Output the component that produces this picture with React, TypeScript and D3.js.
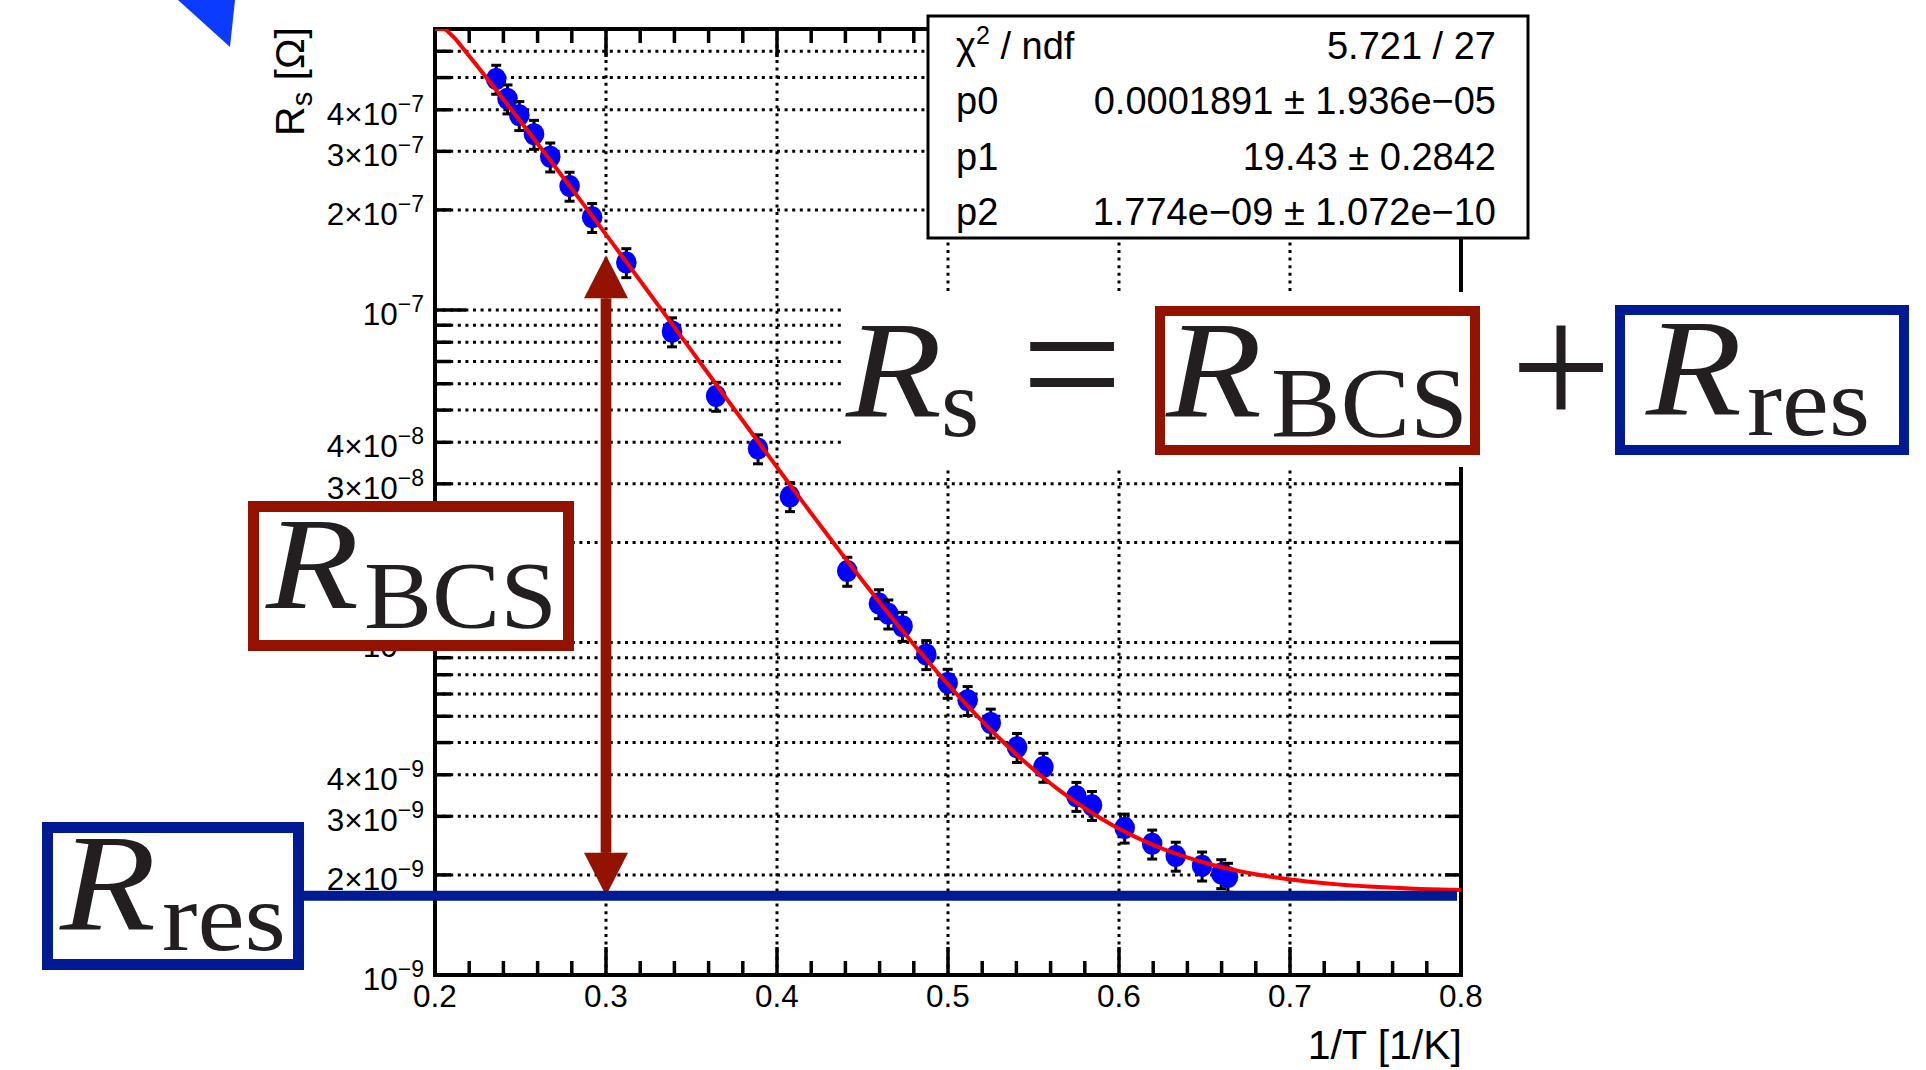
import React from 'react';
import * as d3 from 'd3';

// ---------- data ----------
const invT = [0.2358, 0.2424, 0.2493, 0.2579, 0.2674, 0.2787, 0.2919, 0.3119, 0.3386, 0.3644,
  0.3889, 0.4076, 0.4411, 0.4596, 0.4651, 0.4734, 0.4873, 0.4998, 0.5115, 0.5250,
  0.5404, 0.5558, 0.5751, 0.5842, 0.6033, 0.6194, 0.6332, 0.6486, 0.6598, 0.6637];
const rsValues = [4.95e-7, 4.32e-7, 3.85e-7, 3.38e-7, 2.89e-7, 2.36e-7, 1.90e-7, 1.39e-7, 8.61e-8, 5.51e-8,
  3.83e-8, 2.75e-8, 1.64e-8, 1.31e-8, 1.22e-8, 1.12e-8, 9.21e-9, 7.55e-9, 6.70e-9, 5.73e-9,
  4.84e-9, 4.22e-9, 3.45e-9, 3.24e-9, 2.77e-9, 2.48e-9, 2.28e-9, 2.13e-9, 2.02e-9, 1.97e-9];
const relError = 0.1;

// fit: p0 * x * exp(-p1 * x) + p2   (x = 1/T)
const fitParams = [1.891e-4, 19.43, 1.774e-9];
const fitNpx = 100;

const statLabels = ['χ2 / ndf', 'p0', 'p1', 'p2'];
const statValues = ['5.721 / 27', '0.0001891 ± 1.936e−05', '19.43 ± 0.2842', '1.774e−09 ± 1.072e−10'];

const xDomain = [0.2, 0.8];
const yDomain = [1e-9, 7e-7];
const xTickLabels = ['0.2', '0.3', '0.4', '0.5', '0.6', '0.7', '0.8'];
const yLabelMantissas = [1, 2, 3, 4];
const xTitle = '1/T [1/K]';

// annotation anchors (data units)
const rResLevel = 1.73e-9;
const arrowX = 0.3;
const arrowTop = 1.46e-7;

// ---------- layout ----------
const W = 1926, H = 1070;
const FL = 435, FR = 1461, FT = 29, FB = 975;
const DARKRED = '#931300';
const DARKBLUE = '#001A94';
const INK = '#231F20';
const SANS = '"Liberation Sans", Arial, Helvetica, sans-serif';
const SERIF = '"Liberation Serif", "Times New Roman", serif';

function fit(x: number) {
  const [p0, p1, p2] = fitParams;
  return p0 * x * Math.exp(-p1 * x) + p2;
}

export default function App() {
  const x = d3.scaleLinear().domain(xDomain).range([FL, FR]);
  const y = d3.scaleLog().domain(yDomain).range([FB, FT]);

  const xMinor = x.ticks(30);
  const xMajor = x.ticks(6);
  const yTicks = y.ticks().filter(t => t >= yDomain[0] * 0.999 && t <= yDomain[1] * 1.001);
  const isDecade = (t: number) => Math.abs(Math.log10(t) - Math.round(Math.log10(t))) < 1e-6;
  const mantissa = (t: number) => Math.round(t / Math.pow(10, Math.floor(Math.log10(t) + 1e-9)));
  const expo = (t: number) => Math.floor(Math.log10(t) + 1e-9);

  const curvePts: [number, number][] = d3.range(fitNpx + 1).map(i => {
    const xv = xDomain[0] + (xDomain[1] - xDomain[0]) * i / fitNpx;
    const v = Math.min(fit(xv), yDomain[1]);
    return [x(xv), y(v)];
  });
  const line = d3.line();

  const dot = '3 4.6';
  const ax = x(arrowX);
  const aTop = y(arrowTop);
  const aBot = y(rResLevel);
  const headW = 44, headH = 43, shaftW = 10.7;

  return (
    <svg width={W} height={H} style={{ position: 'absolute', left: 0, top: 0, display: 'block', background: '#fff' }}>
      <rect x={0} y={0} width={W} height={H} fill="#fff" />
      <defs>
        <clipPath id="frameClip"><rect x={FL} y={FT} width={FR - FL} height={FB - FT} /></clipPath>
      </defs>

      {/* grid */}
      <g stroke="#000" strokeWidth={3} strokeDasharray={dot} fill="none">
        {yTicks.filter(t => y(t) > FT + 2 && y(t) < FB - 2).map((t, i) => (
          <line key={'gy' + i} x1={FL} x2={FR} y1={y(t)} y2={y(t)} />
        ))}
        {xMajor.filter(t => x(t) > FL + 2 && x(t) < FR - 2).map((t, i) => (
          <line key={'gx' + i} x1={x(t)} x2={x(t)} y1={FB} y2={FT} />
        ))}
      </g>

      {/* ticks */}
      <g stroke="#000" strokeWidth={3.5}>
        {xMinor.map((t, i) => {
          const major = xMajor.some(m => Math.abs(m - t) < 1e-9);
          const len = major ? 28 : 14;
          return (
            <g key={'tx' + i}>
              <line x1={x(t)} x2={x(t)} y1={FB} y2={FB - len} />
              <line x1={x(t)} x2={x(t)} y1={FT} y2={FT + len} />
            </g>
          );
        })}
        {yTicks.map((t, i) => {
          const len = isDecade(t) ? 31 : 16;
          return (
            <g key={'ty' + i}>
              <line x1={FL} x2={FL + len} y1={y(t)} y2={y(t)} />
              <line x1={FR} x2={FR - len} y1={y(t)} y2={y(t)} />
            </g>
          );
        })}
      </g>

      {/* frame */}
      <rect x={FL} y={FT} width={FR - FL} height={FB - FT} fill="none" stroke="#000" strokeWidth={4} />

      {/* x tick labels */}
      <g fontFamily={SANS} fontSize={31.5} fill="#000" textAnchor="middle">
        {xMajor.map((t, i) => (
          <text key={'lx' + i} x={x(t)} y={1007}>{xTickLabels[i]}</text>
        ))}
      </g>
      {/* y tick labels */}
      <g fontFamily={SANS} fontSize={31.5} fill="#000" textAnchor="end">
        {yTicks.filter(t => yLabelMantissas.includes(mantissa(t))).map((t, i) => {
          const m = mantissa(t);
          return (
            <text key={'ly' + i} x={424} y={y(t) + 15}>
              {m === 1 ? '10' : `${m}×10`}
              <tspan fontSize={23} dy={-13}>{`−${Math.abs(expo(t))}`}</tspan>
            </text>
          );
        })}
      </g>

      {/* axis titles */}
      <text x={1462} y={1059} fontFamily={SANS} fontSize={41} textAnchor="end">{xTitle}</text>
      <text transform={`translate(304, ${FT - 2}) rotate(-90)`} fontFamily={SANS} fontSize={41} textAnchor="end">
        R<tspan fontSize={29} dy={8}>s</tspan><tspan dy={-8}> [Ω]</tspan>
      </text>

      {/* data */}
      <g clipPath="url(#frameClip)">
        {invT.map((xv, i) => {
          const v = rsValues[i];
          const cx = x(xv);
          const yHi = y(v * (1 + relError));
          const yLo = y(v * (1 - relError));
          return (
            <g key={'pt' + i}>
              <line x1={cx} x2={cx} y1={yHi} y2={yLo} stroke="#000" strokeWidth={3} />
              <line x1={cx - 5} x2={cx + 5} y1={yHi} y2={yHi} stroke="#000" strokeWidth={3} />
              <line x1={cx - 5} x2={cx + 5} y1={yLo} y2={yLo} stroke="#000" strokeWidth={3} />
              <ellipse cx={cx} cy={y(v)} rx={10.3} ry={11} fill="#0000FF" />
            </g>
          );
        })}
        <path d={line(curvePts) || ''} fill="none" stroke="#FF0000" strokeWidth={4} strokeLinejoin="round" />
      </g>

      {/* stats box */}
      <rect x={928} y={16} width={600} height={222} fill="#fff" stroke="#000" strokeWidth={3} />
      <g fontFamily={SANS} fontSize={38} fill="#000">
        {statLabels.map((lab, i) => {
          const by = 59 + i * 55.3;
          return (
            <g key={'st' + i}>
              <text x={956} y={by}>
                {i === 0 ? (<>χ<tspan fontSize={25} dy={-15}>2</tspan><tspan dy={15}> / ndf</tspan></>) : lab}
              </text>
              <text x={1496} y={by} textAnchor="end">{statValues[i]}</text>
            </g>
          );
        })}
      </g>

      {/* equation area */}
      <rect x={841} y={292} width={W - 841} height={175} fill="#fff" />
      <text x={846} y={417} fontFamily={SERIF} fontStyle="italic" fontSize={137} fill={INK} textLength={96} lengthAdjust="spacingAndGlyphs">R</text>
      <text x={941} y={436} fontFamily={SERIF} fontSize={98} fill={INK}>s</text>
      <text x={1072} y={424} fontFamily={SERIF} fontSize={180} fill={INK} textAnchor="middle">=</text>
      <rect x={1160} y={311} width={315} height={139} fill="#fff" stroke={DARKRED} strokeWidth={10} />
      <text x={1166} y={417} fontFamily={SERIF} fontStyle="italic" fontSize={137} fill={INK} textLength={96} lengthAdjust="spacingAndGlyphs">R</text>
      <text x={1271} y={436} fontFamily={SERIF} fontSize={100} fill={INK} textLength={197} lengthAdjust="spacingAndGlyphs">BCS</text>
      <text x={1561} y={427} fontFamily={SERIF} fontSize={180} fill={INK} textAnchor="middle">+</text>
      <rect x={1620} y={310} width={284} height={140} fill="#fff" stroke={DARKBLUE} strokeWidth={10} />
      <text x={1646} y={415} fontFamily={SERIF} fontStyle="italic" fontSize={137} fill={INK} textLength={96} lengthAdjust="spacingAndGlyphs">R</text>
      <text x={1747} y={435} fontFamily={SERIF} fontSize={98} fill={INK} textLength={123} lengthAdjust="spacingAndGlyphs">res</text>

      {/* arrow */}
      <g fill={DARKRED}>
        <rect x={ax - shaftW / 2} y={aTop + headH} width={shaftW} height={aBot - aTop - 2 * headH} />
        <polygon points={`${ax},${aTop} ${ax - headW / 2},${aTop + headH} ${ax + headW / 2},${aTop + headH}`} />
        <polygon points={`${ax},${aBot} ${ax - headW / 2},${aBot - headH} ${ax + headW / 2},${aBot - headH}`} />
      </g>

      {/* left R_BCS box */}
      <rect x={253.5} y={506.5} width={315} height={139} fill="#fff" stroke={DARKRED} strokeWidth={11} />
      <text x={266} y={608} fontFamily={SERIF} fontStyle="italic" fontSize={132} fill={INK} textLength={93} lengthAdjust="spacingAndGlyphs">R</text>
      <text x={364} y={628} fontFamily={SERIF} fontSize={96} fill={INK} textLength={193} lengthAdjust="spacingAndGlyphs">BCS</text>

      {/* R_res level line */}
      <line x1={304} x2={x(xDomain[1]) - 4} y1={y(rResLevel)} y2={y(rResLevel)} stroke={DARKBLUE} strokeWidth={10} />

      {/* left R_res box */}
      <rect x={47.5} y={827.5} width={251} height={137} fill="#fff" stroke={DARKBLUE} strokeWidth={11} />
      <text x={60} y={930} fontFamily={SERIF} fontStyle="italic" fontSize={137} fill={INK} textLength={96} lengthAdjust="spacingAndGlyphs">R</text>
      <text x={162} y={950} fontFamily={SERIF} fontSize={98} fill={INK} textLength={124} lengthAdjust="spacingAndGlyphs">res</text>

      {/* partial pointer at top-left */}
      <polygon points="178,0 235,0 230,47" fill="#0B3BFF" />
    </svg>
  );
}
